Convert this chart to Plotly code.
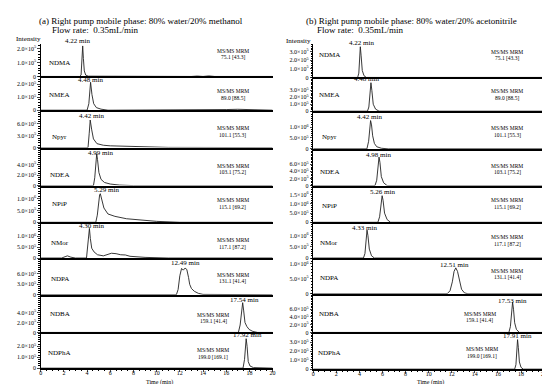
import plotly.graph_objects as go

W, H = 550, 384

compounds = ["NDMA", "NMEA", "Npyr", "NDEA", "NPiP", "NMor", "NDPA", "NDBA", "NDPhA"]
mrm = ["75.1 [43.3]", "89.0 [88.5]", "101.1 [55.3]", "103.1 [75.2]", "115.1 [69.2]",
       "117.1 [87.2]", "131.1 [41.4]", "159.1 [41.4]", "199.0 [169.1]"]
rt_meoh = ["4.22 min", "4.48 min", "4.42 min", "4.99 min", "5.29 min", "4.30 min",
           "12.49 min", "17.54 min", "17.92 min"]
rt_acn = ["4.22 min", "4.48 min", "4.42 min", "4.98 min", "5.26 min", "4.33 min",
          "12.51 min", "17.53 min", "17.91 min"]
x_ticks = [0, 2, 4, 6, 8, 10, 12, 14, 16, 18, 20]

# ---- (a) methanol traces: time (min), intensity (counts) ----
NDMA_m_t = [0, 3.35, 3.48, 3.56, 3.62, 3.68, 3.76, 3.88, 4.1, 13, 13.5, 14, 14.5, 15, 20]
NDMA_m_i = [0, 0, 1e4, 1.2e5, 2.2e5, 1.3e5, 4e4, 1e4, 2e3, 0, 3e3, 0, 4e3, 0, 0]
NMEA_m_t = [0, 4.0, 4.15, 4.3, 4.42, 4.57, 4.8, 5.2, 5.8, 15, 16, 17, 18, 19, 20]
NMEA_m_i = [0, 0, 5e4, 2.15e5, 1.2e5, 5e4, 2e4, 8e3, 0, 0, 5e3, 7e3, 6e3, 3e3, 0]
Npyr_m_t = [0, 4.08, 4.18, 4.27, 4.4, 4.55, 4.85, 5.4, 6.0, 6.6, 7.5, 8.5, 9.5, 11, 20]
Npyr_m_i = [0, 0, 3.5e5, 7.0e5, 4.5e5, 2.2e5, 1.0e5, 6e4, 4.5e4, 4e4, 3e4, 2.5e4, 1.5e4, 5e3, 0]
NDEA_m_t = [0, 4.55, 4.66, 4.76, 4.83, 4.9, 5.02, 5.2, 5.5, 6.0, 6.8, 8.0, 20]
NDEA_m_i = [0, 0, 1.5e5, 5.0e5, 6.1e5, 5.0e5, 2.5e5, 1.2e5, 6e4, 3e4, 1e4, 0, 0]
NPiP_m_t = [0, 4.75, 4.88, 5.0, 5.08, 5.14, 5.25, 5.45, 5.8, 6.4, 7.4, 8.4, 10, 12, 20]
NPiP_m_i = [0, 0, 3e5, 9e5, 1.15e6, 1.2e6, 9.5e5, 6e5, 3.5e5, 2.5e5, 1.5e5, 1e5, 4e4, 0, 0]
NMor_m_t = [0, 1.8, 2.1, 2.3, 2.6, 3.0, 3.95, 4.05, 4.15, 4.2, 4.28, 4.4, 4.6, 4.9, 5.4,
            5.8, 6.1, 6.5, 6.9, 7.3, 7.7, 9, 11, 20]
NMor_m_i = [0, 0, 6e4, 1e5, 4e4, 0, 0, 5e5, 1.2e6, 1.36e6, 9e5, 4.5e5, 2.8e5, 1.5e5, 1e5,
            1.5e5, 2.2e5, 2e5, 1.5e5, 1.4e5, 8e4, 3e4, 0, 0]
NDPA_m_t = [0, 11.7, 11.85, 12.0, 12.15, 12.3, 12.45, 12.6, 12.75, 12.85, 13.0, 13.25, 13.6, 14.0, 20]
NDPA_m_i = [0, 0, 1.5e5, 5.5e5, 7.6e5, 7.1e5, 7.7e5, 7.3e5, 5.0e5, 3.0e5, 1.8e5, 1.0e5, 4e4, 1e4, 0]
NDBA_m_t = [0, 17.05, 17.2, 17.32, 17.42, 17.5, 17.62, 17.78, 17.98, 18.3, 18.7, 20]
NDBA_m_i = [0, 0, 1.5e5, 4.8e5, 6.0e5, 4.5e5, 2.0e5, 1.2e5, 6e4, 2e4, 0, 0]
NDPhA_m_t = [0, 17.45, 17.58, 17.66, 17.72, 17.8, 17.9, 18.05, 18.35, 20]
NDPhA_m_i = [0, 0, 8e4, 2.3e5, 2.7e5, 2.0e5, 6e4, 2e4, 5e3, 0]

# ---- (b) acetonitrile traces ----
NDMA_a_t = [0, 3.85, 3.95, 4.02, 4.08, 4.15, 4.25, 4.4, 4.6, 20]
NDMA_a_i = [0, 0, 5e4, 2.5e5, 3.55e5, 2.5e5, 8e4, 2e4, 0, 0]
NMEA_a_t = [0, 4.7, 4.82, 4.92, 5.0, 5.08, 5.2, 5.4, 5.7, 20]
NMEA_a_i = [0, 0, 6e4, 2.8e5, 4.1e5, 3.0e5, 1.0e5, 3e4, 0, 0]
Npyr_a_t = [0, 4.65, 4.8, 4.9, 4.97, 5.05, 5.15, 5.3, 5.5, 5.9, 6.5, 20]
Npyr_a_i = [0, 0, 3.5e5, 1.05e6, 1.3e6, 1.1e6, 6e5, 2.5e5, 1e5, 3e4, 0, 0]
NDEA_a_t = [0, 5.35, 5.5, 5.62, 5.7, 5.78, 5.9, 6.1, 6.4, 20]
NDEA_a_i = [0, 0, 1.5e5, 6.0e5, 8.0e5, 6.5e5, 2.5e5, 8e4, 0, 0]
NPiP_a_t = [0, 5.6, 5.75, 5.88, 5.97, 6.05, 6.18, 6.4, 6.7, 20]
NPiP_a_i = [0, 0, 3e5, 1.1e6, 1.45e6, 1.2e6, 5e5, 1.5e5, 0, 0]
NMor_a_t = [0, 4.35, 4.48, 4.58, 4.66, 4.74, 4.86, 5.05, 5.3, 20]
NMor_a_i = [0, 0, 2e5, 9e5, 1.25e6, 1.0e6, 4e5, 1e5, 0, 0]
NDPA_a_t = [0, 11.6, 11.85, 12.05, 12.2, 12.35, 12.5, 12.65, 12.85, 13.1, 13.4, 20]
NDPA_a_i = [0, 0, 1e5, 4e5, 7.5e5, 8.7e5, 7.5e5, 4.5e5, 1.5e5, 3e4, 0, 0]
NDBA_a_t = [0, 16.95, 17.08, 17.18, 17.27, 17.35, 17.45, 17.6, 17.85, 20]
NDBA_a_i = [0, 0, 1.5e5, 6e5, 7.8e5, 6e5, 2.5e5, 8e4, 0, 0]
NDPhA_a_t = [0, 17.45, 17.56, 17.64, 17.7, 17.77, 17.86, 18.0, 18.2, 20]
NDPhA_a_i = [0, 0, 5e4, 2.2e5, 3.3e5, 2.4e5, 8e4, 2e4, 0, 0]

meoh = [(NDMA_m_t, NDMA_m_i), (NMEA_m_t, NMEA_m_i), (Npyr_m_t, Npyr_m_i),
        (NDEA_m_t, NDEA_m_i), (NPiP_m_t, NPiP_m_i), (NMor_m_t, NMor_m_i),
        (NDPA_m_t, NDPA_m_i), (NDBA_m_t, NDBA_m_i), (NDPhA_m_t, NDPhA_m_i)]
acn = [(NDMA_a_t, NDMA_a_i), (NMEA_a_t, NMEA_a_i), (Npyr_a_t, Npyr_a_i),
       (NDEA_a_t, NDEA_a_i), (NPiP_a_t, NPiP_a_i), (NMor_a_t, NMor_a_i),
       (NDPA_a_t, NDPA_a_i), (NDBA_a_t, NDBA_a_i), (NDPhA_a_t, NDPhA_a_i)]

# y tick values per panel
yt_meoh = [[0, 1e5, 2e5], [0, 1e5, 2e5], [0, 3e5, 6e5], [0, 2e5, 4e5], [0, 5e5, 1e6],
           [0, 5e5, 1e6], [0, 3e5, 6e5], [0, 2e5, 4e5], [0, 1e5, 2e5]]
yt_acn = [[0, 1e5, 2e5, 3e5], [0, 1e5, 2e5, 3e5], [0, 5e5, 1e6], [0, 2e5, 4e5, 6e5],
          [0, 5e5, 1e6, 1.5e6], [0, 5e5, 1e6], [0, 5e5, 1e6], [0, 2e5, 4e5, 6e5],
          [0, 1e5, 2e5, 3e5]]

# ---------------- layout geometry (pixels) ----------------
ymax_meoh = [2.36e5, 2.6e5, 9.5e5, 7.3e5, 1.54e6, 1.64e6, 1.06e6, 7.6e5, 3.27e5]
ymax_acn = [3.9e5, 4.86e5, 1.73e6, 1.03e6, 2.0e6, 1.6e6, 1.2e6, 1.0e6, 4.1e5]
base_l = [69, 103, 140.7, 179, 216, 252, 289, 327, 363]
base_r = [70, 104, 142, 179, 216, 252, 288, 327, 364]
top0 = 36
xdom_l = [31 / W, 265 / W]
xdom_r = [306 / W, 539 / W]

FONT = "Liberation Serif"


def px(x):
    return x / W


def py(y):
    return 1 - y / H


def fmt(v):
    if v == 0:
        return "0"
    e = 0
    m = v
    while m >= 10:
        m /= 10
        e += 1
    return f"{m:.1f}×10<sup>{e}</sup>"


fig = go.Figure()
layout = dict(
    width=W, height=H, margin=dict(l=0, r=0, t=0, b=0),
    paper_bgcolor="white", plot_bgcolor="white", showlegend=False,
    font=dict(family=FONT, color="black", size=6),
)
annotations = []

n = 0
for col, (data, yts, ymaxs, bases, xdom, rts) in enumerate([
        (meoh, yt_meoh, ymax_meoh, base_l, xdom_l, rt_meoh),
        (acn, yt_acn, ymax_acn, base_r, xdom_r, rt_acn)]):
    for i in range(9):
        n += 1
        xa = "x" if n == 1 else f"x{n}"
        ya = "y" if n == 1 else f"y{n}"
        t, v = data[i]
        fig.add_trace(go.Scatter(x=t, y=v, mode="lines", xaxis=xa, yaxis=ya,
                                 line=dict(color="#222222", width=0.9),
                                 hoverinfo="skip"))
        top = top0 if i == 0 else bases[i - 1]
        bot = bases[i]
        bottom = (i == 8)
        xkey = "xaxis" if n == 1 else f"xaxis{n}"
        ykey = "yaxis" if n == 1 else f"yaxis{n}"
        xdict = dict(
            domain=xdom, anchor=ya, range=[0, 20], showgrid=False, zeroline=False,
            showline=True, linecolor="black", linewidth=2,
            showticklabels=bottom, fixedrange=True,
        )
        if bottom:
            xdict.update(
                ticks="outside", ticklen=2, tickwidth=0.8,
                tickvals=x_ticks, ticktext=[str(k) for k in x_ticks],
                tickfont=dict(size=6, family=FONT), ticklabelstandoff=-4,
                minor=dict(ticks="outside", dtick=0.5, ticklen=1.2,
                           tickwidth=0.6, tickcolor="black"),
            )
        else:
            xdict.update(ticks="", tickvals=[], ticktext=[])
        layout[xkey] = xdict
        yts_i = yts[i]
        step = yts_i[1] - yts_i[0]
        layout[ykey] = dict(
            domain=[py(bot), py(top)], anchor=xa, range=[0, ymaxs[i]],
            showgrid=False, zeroline=False, showline=True, linecolor="black",
            linewidth=1, ticks="outside", ticklen=2.5, tickwidth=0.8,
            tickvals=yts_i, ticktext=[fmt(k) for k in yts_i],
            tickfont=dict(size=6, family=FONT),
            minor=dict(ticks="outside", dtick=step / 5, ticklen=1.3, tickwidth=0.6,
                       tickcolor="black"),
            fixedrange=True,
        )

# ---------------- text annotations ----------------
def add_text(x, y, text, size, anchor="center"):
    annotations.append(dict(x=px(x), y=py(y), xref="paper", yref="paper", text=text,
                            showarrow=False, xanchor=anchor, yanchor="middle",
                            font=dict(size=size, family=FONT, color="black")))


add_text(27, 13, "(a) Right pump mobile phase: 80% water/20% methanol", 9, "left")
add_text(40, 22, "Flow rate:  0.35mL/min", 9, "left")
add_text(297, 13, "(b) Right pump mobile phase: 80% water/20% acetonitrile", 9, "left")
add_text(308, 22, "Flow rate:  0.35mL/min", 9, "left")
add_text(18.5, 31, "Intensity", 7)
add_text(291.5, 33, "Intensity", 7)
add_text(151, 377, "Time (min)", 6)
add_text(424, 377, "Time (min)", 6)

lab_y_l = [55, 88, 130, 168, 198, 237, 273, 308, 348]
lab_y_r = [47, 88, 130, 165, 200, 237, 272, 308, 348]
mrm_y_l = [43, 84, 121, 159, 194, 234, 269, 309, 345]
mrm_y_r = [44, 84, 121, 159, 194, 231, 265, 308, 344]
mrm_x_l = [225] * 7 + [205, 205]
mrm_x_r = [502] * 7 + [474, 476]
pk_l = [(68, 33), (81, 73), (82, 109), (91, 146), (97, 183), (82, 220), (177.5, 257),
        (237, 294), (240, 330)]
pk_r = [(355, 35), (360, 72), (362.5, 110), (372, 148), (376, 185), (358, 222),
        (449, 259), (507.5, 295), (512.5, 331)]

for i in range(9):
    add_text(50, lab_y_l[i], compounds[i], 7)
    add_text(322, lab_y_r[i], compounds[i], 7)
    add_text(mrm_x_l[i], mrm_y_l[i], "MS/MS MRM", 5.5)
    add_text(mrm_x_l[i], mrm_y_l[i] + 6.5, mrm[i], 5.5)
    add_text(mrm_x_r[i], mrm_y_r[i], "MS/MS MRM", 5.5)
    add_text(mrm_x_r[i], mrm_y_r[i] + 6.5, mrm[i], 5.5)
    add_text(pk_l[i][0], pk_l[i][1], rt_meoh[i], 7)
    add_text(pk_r[i][0], pk_r[i][1], rt_acn[i], 7)

layout["annotations"] = annotations
fig.update_layout(**layout)
fig.write_html("out.html")
